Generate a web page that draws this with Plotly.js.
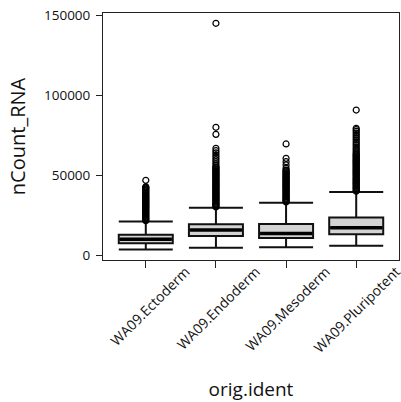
<!DOCTYPE html>
<html>
<head>
<meta charset="utf-8">
<script src="https://cdn.plot.ly/plotly-3.0.1.min.js"></script>
<style>html,body{margin:0;padding:0;background:#fff;}#chart{width:401px;height:402px;}</style>
</head>
<body>
<div id="chart"></div>
<script>
const categories = ["WA09.Ectoderm", "WA09.Endoderm", "WA09.Mesoderm", "WA09.Pluripotent"];
const lowerWhisker = [3500, 4600, 4800, 5800];
const q1Values = [7300, 11900, 10600, 12900];
const medianValues = [9800, 15600, 13500, 17100];
const q3Values = [12700, 19200, 19400, 23500];
const upperWhisker = [21000, 29600, 32700, 39400];

const outliersEctoderm = [21500, 22000, 22600, 23100, 23700, 24200, 24800, 25300, 25900, 26500, 27000, 27600, 28100, 28700, 29300, 29800, 30400, 31000, 31500, 32100, 32700, 33200, 33800, 34400, 34900, 35500, 36100, 36600, 37200, 37800, 38300, 38900, 39500, 40100, 40600, 41200, 41800, 42300, 42700, 46700];
const outliersEndoderm = [30100, 30700, 31300, 31900, 32400, 33000, 33600, 34200, 34800, 35300, 35900, 36500, 37100, 37700, 38200, 38800, 39400, 40000, 40600, 41100, 41700, 42300, 42900, 43500, 44000, 44600, 45200, 45800, 46400, 46900, 47500, 48100, 48700, 49300, 49800, 50400, 51000, 51600, 52200, 52700, 53300, 53900, 54500, 55000, 55800, 57000, 58300, 59600, 61000, 62300, 63800, 65200, 66700, 75400, 79800, 144800];
const outliersMesoderm = [33200, 33800, 34400, 34900, 35500, 36100, 36600, 37200, 37800, 38300, 38900, 39500, 40100, 40600, 41200, 41800, 42300, 42900, 43500, 44000, 44600, 45200, 45700, 46300, 46900, 47400, 48000, 48600, 49100, 49700, 50300, 50800, 51400, 52000, 52600, 53100, 54200, 56250, 58300, 60400, 69400];
const outliersPluripotent = [39900, 40500, 41100, 41700, 42200, 42800, 43400, 44000, 44600, 45100, 45700, 46300, 46900, 47500, 48000, 48600, 49200, 49800, 50400, 50900, 51500, 52100, 52700, 53300, 53800, 54400, 55000, 55600, 56200, 56700, 57300, 57900, 58500, 59100, 59600, 60200, 60800, 61400, 62000, 62500, 63100, 63800, 64700, 65600, 66600, 67500, 68600, 69600, 70700, 71800, 72900, 74000, 75100, 76200, 77300, 78300, 79200, 90600];

const tickVals = [0, 50000, 100000, 150000];

const outlierSets = [outliersEctoderm, outliersEndoderm, outliersMesoderm, outliersPluripotent];
const oxs = [], oys = [];
outlierSets.forEach((arr, i) => arr.forEach(v => { oxs.push(categories[i]); oys.push(v); }));

const traces = [
  {
    type: 'box',
    x: categories,
    q1: q1Values,
    median: medianValues,
    q3: q3Values,
    lowerfence: lowerWhisker,
    upperfence: upperWhisker,
    width: 0.77,
    whiskerwidth: 1,
    fillcolor: '#d3d3d3',
    line: {color: '#111', width: 2},
    boxpoints: false,
    hoverinfo: 'skip',
    showlegend: false
  },
  {
    type: 'scatter',
    mode: 'markers',
    x: categories,
    y: medianValues,
    marker: {symbol: 'line-ew', size: 37, line: {color: '#000', width: 3.5}},
    hoverinfo: 'skip',
    showlegend: false
  },
  {
    type: 'scatter',
    mode: 'markers',
    x: oxs,
    y: oys,
    marker: {symbol: 'circle-open', size: 6, color: '#000', line: {color: '#000', width: 1.2}},
    hoverinfo: 'skip',
    showlegend: false
  }
];

const layout = {
  width: 401,
  height: 402,
  margin: {l: 103, r: 2, t: 13, b: 142},
  paper_bgcolor: '#fff',
  plot_bgcolor: '#fff',
  font: {family: 'Open Sans, sans-serif', color: '#111'},
  showlegend: false,
  xaxis: {
    type: 'category',
    categoryorder: 'array',
    categoryarray: categories,
    range: [-0.61, 3.61],
    showgrid: false,
    zeroline: false,
    showline: true,
    mirror: true,
    linecolor: '#222',
    linewidth: 1,
    ticks: 'outside',
    ticklen: 7,
    tickwidth: 1,
    tickcolor: '#222',
    tickangle: -45,
    ticklabelshift: 40,
    ticklabelstandoff: -10,
    tickfont: {size: 14, color: '#111'},
    automargin: false,
    title: {text: 'orig.ident', font: {size: 19, color: '#111'}, standoff: 30}
  },
  yaxis: {
    range: [-3125, 151250],
    tickvals: tickVals,
    tickformat: 'd',
    showgrid: false,
    zeroline: false,
    showline: true,
    mirror: true,
    linecolor: '#222',
    linewidth: 1,
    ticks: 'outside',
    ticklen: 6,
    tickwidth: 1,
    tickcolor: '#222',
    ticklabelstandoff: 3,
    tickfont: {size: 13.5, color: '#111'},
    automargin: false,
    title: {text: 'nCount_RNA', font: {size: 20, color: '#111'}, standoff: 12}
  }
};

Plotly.newPlot('chart', traces, layout, {displayModeBar: false, staticPlot: true});
</script>
</body>
</html>
